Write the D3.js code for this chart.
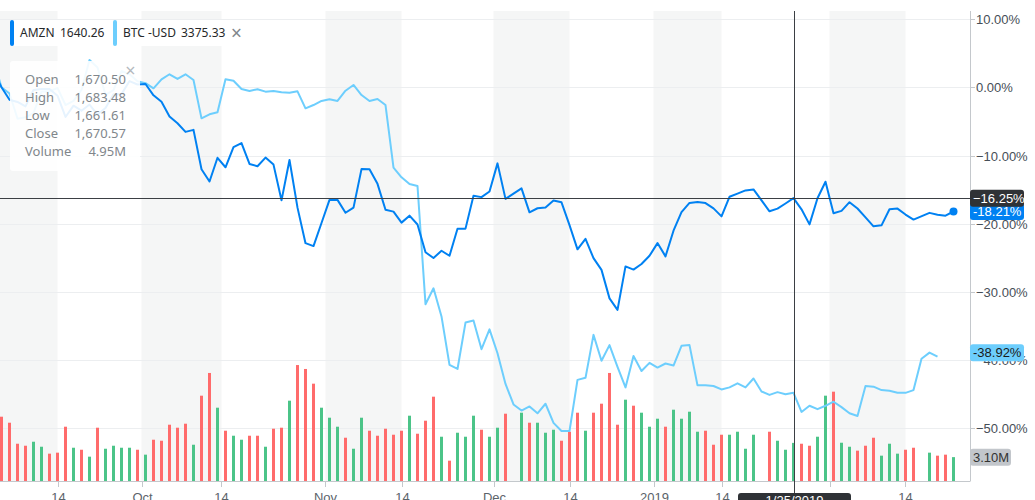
<!DOCTYPE html>
<html><head><meta charset="utf-8">
<script src="https://cdn.jsdelivr.net/npm/d3@7"></script>
<style>
html,body{margin:0;padding:0;background:#fff;overflow:hidden}
svg{display:block}
</style></head>
<body>
<svg id="chart" width="1035" height="500"></svg>
<script>
// ---------- DATA ----------
const dates = [
"2018-09-04","2018-09-05","2018-09-06","2018-09-07","2018-09-10","2018-09-11","2018-09-12","2018-09-13","2018-09-14","2018-09-17",
"2018-09-18","2018-09-19","2018-09-20","2018-09-21","2018-09-24","2018-09-25","2018-09-26","2018-09-27","2018-09-28","2018-10-01",
"2018-10-02","2018-10-03","2018-10-04","2018-10-05","2018-10-08","2018-10-09","2018-10-10","2018-10-11","2018-10-12","2018-10-15",
"2018-10-16","2018-10-17","2018-10-18","2018-10-19","2018-10-22","2018-10-23","2018-10-24","2018-10-25","2018-10-26","2018-10-29",
"2018-10-30","2018-10-31","2018-11-01","2018-11-02","2018-11-05","2018-11-06","2018-11-07","2018-11-08","2018-11-09","2018-11-12",
"2018-11-13","2018-11-14","2018-11-15","2018-11-16","2018-11-19","2018-11-20","2018-11-21","2018-11-23","2018-11-26","2018-11-27",
"2018-11-28","2018-11-29","2018-11-30","2018-12-03","2018-12-04","2018-12-05","2018-12-06","2018-12-07","2018-12-10","2018-12-11",
"2018-12-12","2018-12-13","2018-12-14","2018-12-17","2018-12-18","2018-12-19","2018-12-20","2018-12-21","2018-12-24","2018-12-26",
"2018-12-27","2018-12-28","2018-12-31","2019-01-02","2019-01-03","2019-01-04","2019-01-07","2019-01-08","2019-01-09","2019-01-10",
"2019-01-11","2019-01-14","2019-01-15","2019-01-16","2019-01-17","2019-01-18","2019-01-21","2019-01-22","2019-01-23","2019-01-24",
"2019-01-25","2019-01-28","2019-01-29","2019-01-30","2019-01-31","2019-02-01","2019-02-04","2019-02-05","2019-02-06","2019-02-07",
"2019-02-08","2019-02-11","2019-02-12","2019-02-13","2019-02-14","2019-02-15","2019-02-18","2019-02-19","2019-02-20","2019-02-21",
"2019-02-22"];

// AMZN daily close (USD); null = no session
const amznClose = [
2039.51,1994.82,1958.31,1952.07,1939.01,1987.15,1990.00,1989.87,1970.19,1908.03,
1941.05,1926.42,1944.30,1915.01,1934.36,1974.55,1974.85,2012.98,2003.00,2004.36,
1971.31,1952.76,1909.42,1889.65,1864.42,1870.32,1755.25,1719.36,1788.61,1760.95,
1819.96,1831.73,1770.72,1764.03,1789.30,1768.70,1664.20,1782.17,1642.81,1538.88,
1530.42,1598.01,1665.53,1665.53,1627.80,1642.81,1755.49,1754.91,1712.43,1636.85,
1631.17,1599.01,1619.44,1593.41,1512.29,1495.46,1516.73,1502.06,1581.33,1581.42,
1677.75,1673.57,1690.17,1772.36,1668.40,null,1699.19,1629.13,1641.03,1643.24,
1663.54,1658.38,1591.91,1520.91,1551.48,1495.08,1460.83,1377.45,1343.96,1470.90,
1461.64,1478.02,1501.97,1539.13,1500.28,1575.39,1629.51,1656.58,1659.42,1656.22,
1640.56,1617.21,1674.56,1683.78,1693.22,1696.20,null,1632.17,1640.02,1654.93,
1670.57,1637.89,1593.88,1670.43,1718.73,1626.23,1633.31,1658.81,1640.26,1614.37,
1588.22,1591.00,1638.01,1640.00,1622.65,1607.95,null,1627.58,1622.10,1619.44,
1631.56];
const baseDate = "2018-09-05";

// BTC-USD % change vs base
const btcPct = [
4.0,0,-0.9,-4.6,-4.4,-3.8,-0.6,-0.6,-0.1,-2.6,
-2.0,-0.4,4.0,2.9,-1.1,-0.4,2.4,1.9,0.9,0.6,
-0.15,1.17,1.91,1.22,1.91,1.07,-4.55,-3.96,-3.67,1.17,
0.97,-0.25,-0.54,-0.29,-0.64,-0.54,-0.73,-0.79,-0.59,-3.08,
-2.6,-2.0,-1.76,-2.0,-0.5,0.34,-1.13,-2.0,-1.72,-2.6,
-11.79,-13.2,-14.18,-14.47,-31.8,-29.47,-33.6,-40.7,-41.3,-34.5,
-34.2,-38.4,-35.5,-39.0,-43.5,-46.5,-47.4,-46.8,-47.8,-46.4,
-49.2,-50.4,-50.4,-42.9,-42.6,-36.3,-40.1,-37.8,-41.0,-44.0,
-39.4,-41.6,-40.4,-41.1,-40.5,-40.8,-37.9,-37.8,-43.7,-43.7,
-43.8,-44.3,-44.0,-43.4,-44.0,-42.7,-44.6,-45.1,-44.7,-45.0,
-44.8,-47.6,-46.7,-47.2,-46.7,-46.1,-46.9,-47.8,-48.2,-43.8,
-43.9,-44.4,-44.5,-44.8,-44.8,-44.4,-39.8,-38.9,-39.5,null,
null];

// AMZN volume (millions)
const amznVolM = [
null,8.35,7.57,4.84,4.58,5.10,4.45,3.55,3.68,7.05,
4.32,4.06,3.16,6.92,4.19,4.58,4.32,4.32,4.06,3.42,
5.36,5.23,7.31,6.92,7.44,4.71,11.08,14.03,9.52,6.53,
5.88,5.36,5.88,5.88,4.45,6.79,6.92,10.43,15.06,14.55,
12.64,9.52,8.22,7.05,5.62,4.19,8.22,6.53,5.88,6.79,
6.01,6.53,8.48,6.14,7.83,10.95,5.75,2.64,6.27,5.75,
8.48,6.66,5.75,6.92,8.74,null,8.87,7.57,7.57,6.27,
6.66,5.23,6.40,8.87,6.53,8.87,10.04,14.03,7.31,10.56,
9.78,8.87,7.05,8.09,7.05,9.26,8.09,9.00,6.40,6.53,
4.71,6.01,6.01,6.40,4.19,6.01,null,6.40,5.23,4.06,
4.95,4.84,4.58,5.75,11.08,11.60,4.97,4.45,3.94,4.58,
5.62,3.29,4.84,3.55,4.06,4.32,null,3.68,3.29,3.42,
3.10];

const yTicks = [10, 0, -10, -20, -30, -40, -50];
const xTickPos = [8, 18.5, 28.5, 41.5, 51, 62.5, 72, 82.5, 91, 104.5, 114];
const xTickText = ["14","Oct","14","Nov","14","Dec","14","2019","14","Feb","14"];
const bandRanges = [[-0.5,8],[18.5,28.5],[41.5,51],[62.5,72],[82.5,91],[104.5,114]];

const legendNames = ["AMZN", "BTC -USD"];
const legendPrices = ["1640.26", "3375.33"];
const tipLabels = ["Open","High","Low","Close","Volume"];
const tipValues = ["1,670.50","1,683.48","1,661.61","1,670.57","4.95M"];
const crossDate = "2019-01-25";
const crossPct = -16.25;
const amznLastLabel = "-18.21%";
const btcLastLabel = "-38.92%";
const btcLastValue = -38.92;
const volLastLabel = "3.10M";

// ---------- COLORS ----------
const C_AMZN = "#0081f2", C_BTC = "#6dcefd", C_UP = "#4bc488", C_DN = "#ff6b6b";
const AXIS_FONT = "'Liberation Sans', Arial, Helvetica, sans-serif";
const UI_FONT = "'Noto Sans', 'Open Sans', sans-serif";

// ---------- SCALES ----------
const L = 0, R = 970, T = 11, B = 481;
const x = d3.scaleLinear().domain([0, dates.length - 1]).range([-6.5, 953.5]);
const y = d3.scaleLinear().domain([-50, 10]).range([428.3, 19.1]);
const yV = d3.scaleLinear().domain([0, 14]).range([B, B - 7.7 * 14]);

const baseIdx = dates.indexOf(baseDate);
const base = amznClose[baseIdx];
const amznPts = amznClose.map((c, i) => ({i, v: c == null ? null : (c / base - 1) * 100})).filter(d => d.v != null);
const btcPts = btcPct.map((v, i) => ({i, v})).filter(d => d.v != null);

// volume color by change vs previous session close
let prev = null;
const volData = amznVolM.map((v, i) => {
  const c = amznClose[i];
  let up = true;
  if (c != null) { if (prev != null) up = c >= prev; prev = c; }
  return {i, v, up};
}).filter(d => d.v != null);

// ---------- DRAW ----------
const svg = d3.select("#chart");
svg.append("rect").attr("width", 1035).attr("height", 500).attr("fill", "#fff");
svg.append("defs").append("clipPath").attr("id", "plot")
  .append("rect").attr("x", L).attr("y", T).attr("width", R - L).attr("height", B - T);
const plot = svg.append("g").attr("clip-path", "url(#plot)");

// month bands
plot.selectAll("rect.band").data(bandRanges).join("rect")
  .attr("x", d => x(d[0])).attr("width", d => x(d[1]) - x(d[0]))
  .attr("y", T).attr("height", B - T).attr("fill", "#f5f6f6");

// gridlines
plot.selectAll("line.grid").data(yTicks).join("line")
  .attr("x1", L).attr("x2", R).attr("y1", d => Math.round(y(d)) + 0.5).attr("y2", d => Math.round(y(d)) + 0.5)
  .attr("stroke", "#eceef0").attr("stroke-width", 1);

// volume bars
plot.selectAll("rect.vol").data(volData).join("rect")
  .attr("x", d => x(d.i) - 1.5).attr("width", 3)
  .attr("y", d => yV(d.v)).attr("height", d => B - yV(d.v))
  .attr("fill", d => d.up ? C_UP : C_DN);

// lines
const line = d3.line().x(d => x(d.i)).y(d => y(d.v));
plot.append("path").datum(btcPts).attr("d", line).attr("fill", "none")
  .attr("stroke", C_BTC).attr("stroke-width", 2).attr("stroke-linejoin", "round");
plot.append("path").datum(amznPts).attr("d", line).attr("fill", "none")
  .attr("stroke", C_AMZN).attr("stroke-width", 2).attr("stroke-linejoin", "round");
const lastA = amznPts[amznPts.length - 1];
plot.append("circle").attr("cx", x(lastA.i)).attr("cy", y(lastA.v)).attr("r", 4).attr("fill", C_AMZN);

// axes lines
svg.append("line").attr("x1", R + 0.5).attr("x2", R + 0.5).attr("y1", T).attr("y2", B + 0.5)
  .attr("stroke", "#c4c8cc");
svg.append("line").attr("x1", L).attr("x2", R).attr("y1", B + 0.5).attr("y2", B + 0.5)
  .attr("stroke", "#c4c8cc");

// right axis
const yAxis = svg.append("g");
yTicks.forEach(t => {
  const yy = Math.round(y(t)) + 0.5;
  yAxis.append("line").attr("x1", R).attr("x2", R + 5).attr("y1", yy).attr("y2", yy).attr("stroke", "#c4c8cc");
  yAxis.append("text").attr("x", R + 6).attr("y", yy).attr("dy", "0.36em")
    .attr("font-family", AXIS_FONT).attr("font-size", 13).attr("fill", "#464e56")
    .text(d3.format(".2f")(t) + "%");
});

// bottom axis
const xAxis = svg.append("g");
xTickPos.forEach((p, k) => {
  const xx = Math.round(x(p)) + 0.5;
  xAxis.append("line").attr("x1", xx).attr("x2", xx).attr("y1", B).attr("y2", B + 6).attr("stroke", "#c4c8cc");
  xAxis.append("text").attr("x", xx).attr("y", 502).attr("text-anchor", "middle")
    .attr("font-family", AXIS_FONT).attr("font-size", 13).attr("fill", "#5b636a")
    .text(xTickText[k]);
});

// crosshair
const ci = dates.indexOf(crossDate);
const cx = Math.round(x(ci)) + 0.5, cy = Math.round(y(crossPct)) + 0.5;
svg.append("line").attr("x1", cx).attr("x2", cx).attr("y1", T).attr("y2", 500).attr("stroke", "#3b3f44");
svg.append("line").attr("x1", L).attr("x2", R).attr("y1", cy).attr("y2", cy).attr("stroke", "#3b3f44");

// tooltip box
const tip = svg.append("g");
tip.append("rect").attr("x", 10).attr("y", 61).attr("width", 130).attr("height", 110).attr("rx", 3)
  .attr("fill", "#fff").attr("fill-opacity", 0.9);
tip.append("text").attr("x", 130.5).attr("y", 76.5).attr("text-anchor", "middle")
  .attr("font-family", UI_FONT).attr("font-size", 18).attr("fill", "#b4b9be").text("×");
tipLabels.forEach((lab, k) => {
  const yy = 83.5 + k * 18;
  tip.append("text").attr("x", 25).attr("y", yy).attr("font-family", UI_FONT).attr("font-size", 13)
    .attr("fill", "#80868b").text(lab);
  tip.append("text").attr("x", 126).attr("y", yy).attr("text-anchor", "end").attr("font-family", UI_FONT)
    .attr("font-size", 13).attr("fill", "#80868b").text(tipValues[k]);
});

// legend chips
const leg = svg.append("g");
const chipX = [10, 113], chipW = [100, 134], nameX = [20, 123], priceX = [60, 181];
[C_AMZN, C_BTC].forEach((col, k) => {
  leg.append("rect").attr("x", chipX[k]).attr("y", 20).attr("width", chipW[k]).attr("height", 26).attr("fill", "#fff");
  leg.append("rect").attr("x", chipX[k]).attr("y", 20).attr("width", 4).attr("height", 26).attr("rx", 2).attr("fill", col);
  leg.append("text").attr("x", nameX[k]).attr("y", 37).attr("font-family", UI_FONT).attr("font-size", 12)
    .attr("fill", "#26282a").text(legendNames[k]);
  leg.append("text").attr("x", priceX[k]).attr("y", 37).attr("font-family", UI_FONT).attr("font-size", 12)
    .attr("fill", "#26282a").text(legendPrices[k]);
});
leg.append("text").attr("x", 236.5).attr("y", 39.5).attr("text-anchor", "middle").attr("font-family", UI_FONT)
  .attr("font-size", 19).attr("fill", "#80868b").text("×");

// right value labels
function valueLabel(yc, w, fill, color, txt) {
  const g = svg.append("g");
  g.append("rect").attr("x", R).attr("y", yc - 8.5).attr("width", w).attr("height", 17).attr("rx", 3).attr("fill", fill);
  g.append("text").attr("x", R + 3).attr("y", yc).attr("dy", "0.36em").attr("font-family", AXIS_FONT)
    .attr("font-size", 13).attr("fill", color).text(txt);
}
valueLabel(y(btcLastValue), 54, C_BTC, "#1a1a1a", btcLastLabel);
valueLabel(yV(amznVolM[amznVolM.length - 1]), 41, "#c2c6cb", "#333", volLastLabel);
valueLabel(y(lastA.v), 54, C_AMZN, "#fff", amznLastLabel);
valueLabel(y(crossPct), 54, "#2f3236", "#fff", d3.format(".2f")(crossPct) + "%");

// bottom date label
const dl = svg.append("g");
dl.append("rect").attr("x", cx - 56.5).attr("y", 493).attr("width", 113).attr("height", 20).attr("rx", 3).attr("fill", "#2f3236");
const cd = new Date(crossDate + "T12:00:00");
dl.append("text").attr("x", cx).attr("y", 505).attr("text-anchor", "middle").attr("font-family", AXIS_FONT)
  .attr("font-size", 13).attr("fill", "#fff").text((cd.getMonth() + 1) + "/" + cd.getDate() + "/" + cd.getFullYear());
</script>
</body></html>
